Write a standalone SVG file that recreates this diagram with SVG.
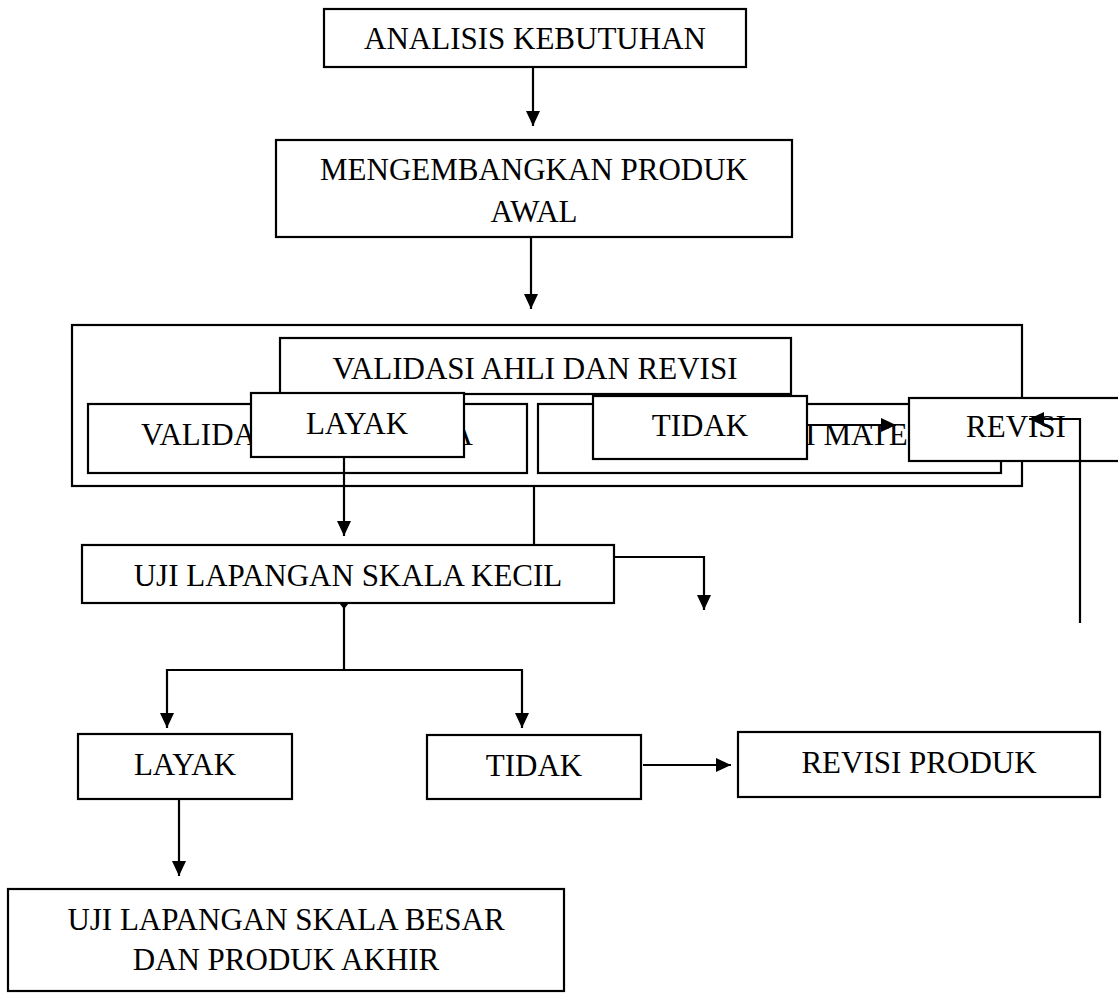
<svg xmlns="http://www.w3.org/2000/svg" width="1118" height="994" viewBox="0 0 1118 994">
<defs>
<marker id="ah" markerUnits="userSpaceOnUse" markerWidth="16" markerHeight="14" refX="15" refY="7" orient="auto">
<path d="M0,0 L15,7 L0,14 Z" fill="#000"/>
</marker>
<style>
.box{fill:#fff;stroke:#000;stroke-width:2.2}
.t{font-family:"Liberation Serif","Times New Roman",serif;font-size:31px;fill:#000;text-anchor:middle}
.c{fill:none;stroke:#000;stroke-width:2.2}
.a{marker-end:url(#ah)}
</style>
</defs>
<rect width="1118" height="994" fill="#fff"/>

<g id="analisis">
<rect class="box" x="324" y="9" width="422" height="58"/>
<text class="t" x="535" y="49">ANALISIS KEBUTUHAN</text>
</g>
<g id="mengembangkan">
<rect class="box" x="276" y="140" width="516" height="97"/>
<text class="t" x="534" y="180">MENGEMBANGKAN PRODUK</text>
<text class="t" x="534" y="222">AWAL</text>
</g>
<g id="validasi-group">
<rect class="box" x="72" y="325" width="950" height="161"/>
</g>
<g id="validasi-ahli">
<rect class="box" x="280" y="338" width="511" height="56"/>
<text class="t" x="535" y="379">VALIDASI AHLI DAN REVISI</text>
</g>
<g id="validasi-media">
<rect class="box" x="88" y="404" width="439" height="69"/>
<text class="t" x="307" y="445">VALIDASI AHLI MEDIA</text>
</g>
<g id="validasi-materi">
<rect class="box" x="538" y="404" width="463" height="69"/>
<text class="t" x="766" y="445">VALIDASI AHLI MATERI</text>
</g>
<g id="layak-1">
<rect class="box" x="251" y="393" width="213" height="64"/>
<text class="t" x="357" y="434">LAYAK</text>
</g>
<g id="tidak-1">
<rect class="box" x="593" y="396" width="214" height="63"/>
<text class="t" x="700" y="436">TIDAK</text>
</g>
<g id="revisi">
<rect class="box" x="909" y="398" width="230" height="63"/>
<text class="t" x="1016" y="437">REVISI</text>
</g>
<g id="uji-kecil">
<rect class="box" x="82" y="545" width="532" height="58"/>
<text class="t" x="348" y="586">UJI LAPANGAN SKALA KECIL</text>
</g>
<g id="layak-2">
<rect class="box" x="78" y="734" width="214" height="65"/>
<text class="t" x="185" y="775">LAYAK</text>
</g>
<g id="tidak-2">
<rect class="box" x="427" y="735" width="214" height="64"/>
<text class="t" x="534" y="776">TIDAK</text>
</g>
<g id="revisi-produk">
<rect class="box" x="738" y="732" width="362" height="65"/>
<text class="t" x="919" y="773">REVISI PRODUK</text>
</g>
<g id="uji-besar">
<rect class="box" x="8" y="889" width="556" height="102"/>
<text class="t" x="286" y="930">UJI LAPANGAN SKALA BESAR</text>
<text class="t" x="286" y="970">DAN PRODUK AKHIR</text>
</g>

<g id="connectors">
<path class="c a" d="M533,67 V126"/>
<path class="c a" d="M531,237 V309"/>
<path class="c a" d="M344,457 V536"/>
<path class="c" d="M534,486 V545"/>
<path class="c a" d="M807,425 H896"/>
<path class="c a" d="M1080,623 V419 H1029"/>
<path class="c a" d="M614,557 H704 V610"/>
<path class="c" d="M344,603 V670"/>
<polygon points="339,603 349,603 344,609" fill="#000"/>
<path class="c a" d="M344,670 H167 V728"/>
<path class="c a" d="M344,670 H522 V728"/>
<path class="c a" d="M179,799 V876"/>
<path class="c a" d="M643,765 H731"/>
</g>
</svg>
